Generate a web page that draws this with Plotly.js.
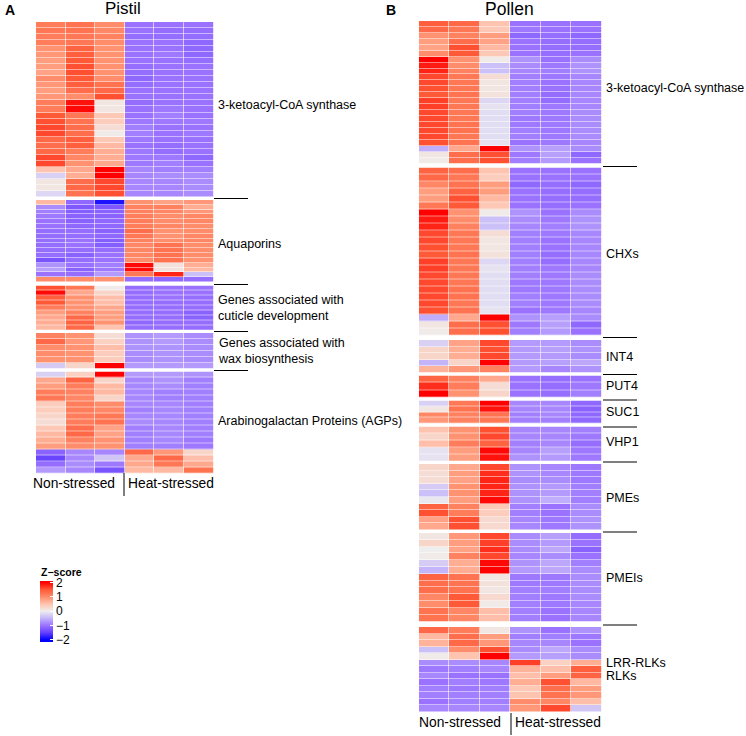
<!DOCTYPE html>
<html><head><meta charset="utf-8">
<script src="https://cdn.plot.ly/plotly-3.0.1.min.js"></script>
<style>html,body{margin:0;padding:0;background:#fff}</style></head>
<body><div id="chart" style="width:746px;height:736px"></div>
<script>
const samples = ["NS1","NS2","NS3","HS1","HS2","HS3"];

const pistilKCS = [
[1.15,1.25,1.0,-1.0,-1.0,-1.0],[1.2,1.25,1.05,-1.0,-1.05,-1.05],[1.15,1.2,1.1,-1.05,-1.05,-1.05],[1.15,1.2,1.0,-1.0,-1.0,-1.1],
[.95,1.4,.95,-1.0,-1.0,-1.1],[.9,1.45,.95,-1.0,-.95,-1.1],[.85,1.5,.95,-1.0,-1.0,-1.05],[.85,1.55,.95,-1.05,-1.0,-1.0],
[.8,1.55,.95,-1.05,-1.0,-1.0],[1.0,1.5,1.0,-1.1,-1.0,-1.0],[.9,1.45,1.25,-1.05,-1.0,-1.0],[.85,1.3,1.35,-1.0,-1.0,-1.0],
[.9,1.0,1.55,-1.0,-1.0,-1.0],[1.15,1.9,.1,-1.05,-1.0,-1.0],[1.15,1.95,.1,-1.0,-.95,-1.0],[1.5,1.2,.45,-1.0,-.9,-1.0],
[1.55,1.25,.4,-.95,-.95,-.95],[1.6,1.3,.2,-.9,-1.0,-1.0],[1.6,1.3,.05,-.9,-1.0,-.95],[1.35,1.45,.45,-.95,-1.0,-1.0],
[1.3,1.45,.6,-1.0,-1.05,-1.0],[1.35,1.15,.7,-.95,-1.05,-1.0],[1.6,1.05,.7,-.95,-.95,-1.1],[1.6,.95,.75,-.95,-.9,-1.0],
[.5,.75,2.0,-.85,-.9,-.9],[-.25,.7,2.0,-.85,-.8,-.8],[.1,1.3,1.6,-.85,-.85,-.8],[.1,1.35,1.6,-.85,-.85,-.8],[-.2,1.25,1.55,-.85,-.85,-.8]];
const pistilAQP = [
[.6,-1.1,-1.85,.95,.8,.9],[-.8,-1.25,-1.25,1.1,1.1,.7],[-.9,-1.2,-1.15,1.1,1.05,.9],[-.95,-1.15,-1.15,1.15,1.0,1.05],
[-1.0,-1.15,-1.1,1.15,1.0,1.05],[-1.0,-1.1,-1.1,1.15,1.05,1.0],[-1.05,-1.05,-1.15,1.3,.95,1.0],[-1.05,-1.05,-1.1,1.2,.95,1.05],
[-1.05,-1.0,-1.2,1.1,1.0,1.05],[-1.05,-1.0,-1.2,1.05,1.25,1.0],[-1.05,-1.05,-1.05,1.05,1.25,1.0],[-1.05,-1.15,-1.0,1.05,1.25,1.0],
[-1.3,-1.05,-1.0,1.0,1.25,.95],[-.75,-1.0,-.9,1.95,.15,.7],[-.65,-1.15,-.95,1.95,.15,.6],[-1.0,-1.05,-.7,1.2,1.8,-.4],[1.0,1.0,.95,-1.05,-1.1,-1.05]];
const pistilCuticle = [
[1.55,1.2,.05,-1.05,-1.0,-1.0],[1.95,.75,.3,-1.05,-1.0,-1.0],[1.45,.95,.55,-1.05,-1.0,-1.05],[1.5,.95,.55,-1.05,-1.05,-1.05],
[1.15,.95,.75,-1.05,-1.05,-1.05],[.85,1.1,.85,-1.05,-1.05,-1.15],[.75,1.35,.85,-1.05,-1.05,-1.15],[.7,1.4,.95,-1.1,-1.05,-1.05],[.6,1.35,.5,-1.05,-1.05,-1.05]];
const pistilWax = [
[1.1,.95,.2,-.75,-.7,-.8],[1.35,.9,.35,-.75,-.7,-.8],[1.0,.95,.55,-.75,-.75,-.8],[1.0,.95,.4,-.8,-.75,-.8],[.95,.95,.4,-.8,-.75,-.8],[-.3,.3,2.0,-.7,-.7,-.7]];
const pistilAGP = [
[-.25,.35,2.0,-.7,-.7,-.75],[.75,1.4,.3,-.85,-.75,-.9],[.85,1.15,.6,-.85,-.8,-.9],[1.15,1.1,.6,-.85,-.9,-.9],[1.2,1.05,.3,-.85,-.9,-.9],
[.4,1.15,1.0,-.85,-.85,-.9],[.4,1.15,1.05,-.9,-.85,-.9],[.3,1.15,1.2,-.85,-.85,-.9],[.2,1.15,1.25,-.8,-.85,-.9],[.45,1.3,.8,-.9,-.85,-.9],
[.6,1.35,.8,-.9,-.85,-.9],[.7,1.1,.95,-.9,-.85,-.95],[.85,1.0,.95,-.9,-.9,-.95],
[-1.15,-.85,-.85,1.35,.9,.3],[-1.45,-.85,-.35,.75,1.35,.55],[-1.05,-.8,-.95,.75,1.2,.75],[-.7,-.85,-1.3,.6,.6,1.25]];

const pollenKCS = [
[1.45,1.35,.5,-1.0,-1.0,-1.0],[1.35,1.2,.45,-.95,-1.0,-1.0],[.95,1.1,.85,-1.1,-1.05,-1.1],[.85,1.3,.8,-1.0,-1.05,-1.05],
[.8,1.55,.6,-1.0,-1.05,-1.05],[1.0,1.5,.45,-1.0,-1.05,-1.0],[2.0,.95,.05,-.75,-1.0,-.8],[1.85,1.0,-.4,-.8,-.95,-.75],
[1.8,1.1,-.4,-.85,-.9,-.75],[1.6,1.2,.2,-.9,-.95,-.85],[1.6,1.2,.1,-.9,-1.0,-.85],[1.55,1.2,.1,-.9,-1.0,-.85],[1.5,1.25,.15,-.9,-1.05,-.85],
[1.65,1.2,-.2,-.9,-1.05,-.85],[1.65,1.2,-.1,-.9,-.95,-.85],[1.6,1.2,-.15,-.9,-.95,-.8],[1.6,1.2,-.15,-.95,-.95,-.8],[1.6,1.25,-.15,-.95,-.95,-.8],
[1.6,1.25,-.15,-.9,-.95,-.8],[1.6,1.2,-.15,-.9,-.95,-.8],[1.55,1.25,-.1,-1.0,-.95,-.85],[-.55,.75,2.0,-.75,-.65,-.8],[.1,1.3,1.55,-.95,-.65,-1.1],[.05,1.3,1.55,-.9,-.7,-1.0]];
const pollenCHX = [
[1.4,1.3,.5,-1.0,-1.0,-1.0],[1.35,1.2,.4,-1.0,-1.0,-1.0],[1.05,1.25,.85,-1.1,-1.05,-1.1],[.85,1.4,.85,-1.0,-1.05,-1.05],
[.85,1.55,.6,-1.0,-1.05,-1.05],[1.2,1.5,.45,-1.0,-1.05,-1.0],[2.0,.95,.05,-.75,-1.0,-.8],[1.85,1.0,-.4,-.8,-.95,-.75],
[1.8,1.1,-.4,-.85,-.9,-.75],[1.6,1.2,.2,-.9,-.95,-.85],[1.6,1.2,.1,-.9,-1.0,-.85],[1.55,1.2,.1,-.9,-1.0,-.85],[1.5,1.25,.15,-.9,-1.05,-.85],
[1.65,1.2,-.2,-.9,-1.05,-.85],[1.65,1.2,-.1,-.9,-.95,-.85],[1.6,1.2,-.15,-.9,-.95,-.8],[1.6,1.2,-.15,-.95,-.95,-.8],[1.6,1.25,-.15,-.95,-.95,-.8],
[1.6,1.25,-.15,-.9,-.95,-.8],[1.6,1.2,-.15,-.9,-.95,-.8],[1.55,1.25,-.1,-1.0,-.95,-.85],[-.55,.75,2.0,-.75,-.65,-.8],[.1,1.3,1.55,-.95,-.65,-1.1],[.05,1.3,1.55,-.9,-.7,-1.0]];
const pollenINT4 = [[-.25,.8,1.6,-.7,-.7,-.8],[.3,.7,1.55,-.7,-.65,-.75],[.3,.7,1.6,-.7,-.7,-.8],[-.5,.3,2.0,-.7,-.65,-.6],[.65,.9,1.1,-.7,-.85,-.75]];
const pollenPUT4 = [[1.4,1.1,.75,-1.0,-1.05,-1.0],[1.75,1.15,.2,-1.0,-1.05,-.95],[2.0,.95,.3,-1.0,-1.05,-.9]];
const pollenSUC1 = [[-.25,1.2,2.0,-.85,-.85,-1.1],[.1,1.25,1.9,-.85,-.85,-1.15],[1.05,1.1,1.25,-.9,-.85,-1.1],[.9,1.1,1.2,-.9,-.9,-1.1]];
const pollenVHP1 = [[.5,.95,1.55,-.85,-.85,-.9],[.3,.95,1.6,-.85,-.85,-.95],[.55,1.15,1.4,-.9,-.85,-1.05],[-.1,.85,1.95,-.85,-.65,-.95],[-.1,.85,1.9,-.75,-.7,-.95]];
const pollenPMEs = [
[.3,.75,1.6,-.75,-.85,-.95],[.2,.85,1.75,-.75,-.85,-.95],[.2,.8,1.8,-.8,-.8,-.95],[-.3,.95,1.8,-.75,-.7,-.9],[-.4,.95,1.8,-.75,-.7,-.9],
[-.05,.85,1.95,-.75,-.55,-.9],[1.4,1.1,.45,-.9,-1.0,-.8],[1.55,1.15,.4,-.9,-1.0,-.8],[.8,1.55,.25,-.85,-.95,-.75],[.75,1.55,.25,-.85,-.95,-.75]];
const pollenPMEIs = [
[.1,.9,1.6,-.8,-.65,-1.05],[.3,.85,1.65,-.8,-.7,-1.0],[.0,.8,1.75,-.8,-.6,-1.15],[.05,1.1,1.6,-.85,-.8,-1.0],[-.3,.7,1.95,-.75,-.6,-.9],[-.5,.7,2.0,-.7,-.6,-.8],
[1.4,1.25,.1,-.95,-.95,-.8],[1.3,1.25,.15,-.95,-.95,-.8],[1.3,1.25,.1,-.9,-.9,-.8],[1.05,1.5,.25,-.9,-.95,-.8],[1.0,1.5,.05,-.9,-.95,-.85],[1.25,1.05,.55,-.9,-1.0,-.85],[1.25,1.05,.55,-.9,-1.0,-.85]];
const pollenRLK = [
[1.35,1.15,.1,-.75,-1.0,-.75],[.6,1.3,.85,-.9,-.9,-.95],[.65,1.35,.9,-.85,-.85,-1.0],[-.4,1.0,1.55,-.8,-.6,-.8],[.05,.5,2.0,-.7,-.65,-.8],
[-.8,-.8,-.85,1.65,.35,.7],[-.95,-.9,-.85,.65,.55,1.45],[-.85,-1.0,-1.0,.55,.85,1.4],[-1.0,-.9,-.95,.7,1.55,.6],[-.9,-.95,-.9,.45,1.3,.85],[-.9,-.9,-.9,.5,1.25,.9],[-1.0,-.9,-.9,1.0,1.05,.55],[-.85,-.85,-.85,.9,1.6,-.35]];

const zStops = [-2,-1.5,-1,-.5,0,.5,1,1.5,2];
const zColors = ["#0000FF","#6440FF","#9A72FF","#C4B4FA","#EEEEEE","#FFC4B0","#FF8C6A","#FF5A38","#FF0000"];

const W = 746, H = 736;
const px = x => x / W, py = y => 1 - y / H;
const cmin = -2.15, cmax = 2.1;
const colorscale = [[0, zColors[0]]].concat(zStops.map((z, i) => [(z - cmin) / (cmax - cmin), zColors[i]]), [[1, zColors[8]]]);

// panel pixel frames
const blocks = [
 {z: pistilKCS, top: 22, bot: 197, side: 0}, {z: pistilAQP, top: 200, bot: 282, side: 0},
 {z: pistilCuticle, top: 285.5, bot: 330, side: 0}, {z: pistilWax, top: 333, bot: 368.5, side: 0},
 {z: pistilAGP, top: 371.5, bot: 473.5, side: 0},
 {z: pollenKCS, top: 21, bot: 163.5, side: 1}, {z: pollenCHX, top: 167.5, bot: 335.5, side: 1},
 {z: pollenINT4, top: 340, bot: 372.5, side: 1}, {z: pollenPUT4, top: 375.5, bot: 397.5, side: 1},
 {z: pollenSUC1, top: 400.5, bot: 423.5, side: 1}, {z: pollenVHP1, top: 426.5, bot: 461, side: 1},
 {z: pollenPMEs, top: 464, bot: 530, side: 1}, {z: pollenPMEIs, top: 533, bot: 621.5, side: 1},
 {z: pollenRLK, top: 627, bot: 712, side: 1}];
const xFrames = [[36, 213.5], [419, 601.5]];

const layout = {
 width: W, height: H, margin: {l: 0, r: 0, t: 0, b: 0}, paper_bgcolor: "#fff", plot_bgcolor: "#fff", showlegend: false,
 xaxis: {domain: xFrames[0].map(px), visible: false, type: "category"},
 xaxis2: {domain: xFrames[1].map(px), visible: false, type: "category"},
 coloraxis: {cmin, cmax, colorscale, colorbar: {
   thickness: 13, thicknessmode: "pixels", len: 61, lenmode: "pixels", x: px(40), xanchor: "left", xref: "paper",
   y: py(581), yanchor: "top", yref: "paper", xpad: 0, ypad: 0, outlinewidth: 0, borderwidth: 0,
   tickvals: [-2,-1,0,1,2], ticktext: ["\u22122","\u22121","0","1","2"], ticks: "inside", ticklen: 3, tickcolor: "#fff", tickwidth: 1,
   tickfont: {family: "Liberation Sans, Arial", size: 12, color: "#000"}}},
 shapes: [], annotations: []
};

const traces = blocks.map((b, i) => {
  const n = i + 1, key = n === 1 ? "yaxis" : "yaxis" + n;
  const xa = b.side ? "x2" : "x";
  layout[key] = {domain: [py(b.bot), py(b.top)], visible: false, autorange: "reversed", anchor: xa};
  return {type: "heatmap", z: b.z, x: samples, xaxis: xa, yaxis: n === 1 ? "y" : "y" + n,
          coloraxis: "coloraxis", xgap: 0.6, ygap: 0.5, hoverongaps: false};
});

const ink = "#000", fam = "Liberation Sans, Arial";
const label = (t, x, y, size, extra) => layout.annotations.push(Object.assign(
  {text: t, x: px(x), y: py(y), xref: "paper", yref: "paper", xanchor: "left", yanchor: "middle", showarrow: false, align: "left",
   font: {family: fam, size, color: ink}}, extra || {}));
const rule = (x0, y0, x1, y1, w) => layout.shapes.push({type: "line", xref: "paper", yref: "paper", x0: px(x0), x1: px(x1), y0: py(y0), y1: py(y1), line: {color: ink, width: w || 1}});

label("<b>A</b>", 3, 9.5, 14); label("<b>B</b>", 384, 9.5, 14);
label("Pistil", 122.5, 9, 17, {xanchor: "center"}); label("Pollen", 509, 8.5, 17.5, {xanchor: "center"});
label("<b>Z\u2212score</b>", 39, 571.5, 10.5);
[["3-ketoacyl-CoA synthase",105],["Aquaporins",244],["Genes associated with<br>cuticle development",308],["Genes associated with<br>wax biosynthesis",351],["Arabinogalactan Proteins (AGPs)",421]]
  .forEach(d => label(d[0], 216, d[1], 12.5));
[["3-ketoacyl-CoA synthase",88],["CHXs",254],["INT4",357],["PUT4",386],["SUC1",412],["VHP1",442],["PMEs",498],["PMEIs",578],["LRR-RLKs",663],["RLKs",676]]
  .forEach(d => label(d[0], 604, d[1], 12.5));
[198.5,284.5,331.5,370.5].forEach(y => rule(214, y, 248, y));
[166.5,337.5,374.5,400,427,462,532,625].forEach(y => rule(603, y, 637, y));
label("Non-stressed", 31, 483, 13.8); label("Heat-stressed", 126, 483, 13.8);
label("Non-stressed", 417, 722, 13.8); label("Heat-stressed", 513, 722, 13.8);
rule(124, 473, 124, 496); rule(511, 713, 511, 735);

Plotly.newPlot("chart", traces, layout, {displayModeBar: false, staticPlot: true});
</script></body></html>
